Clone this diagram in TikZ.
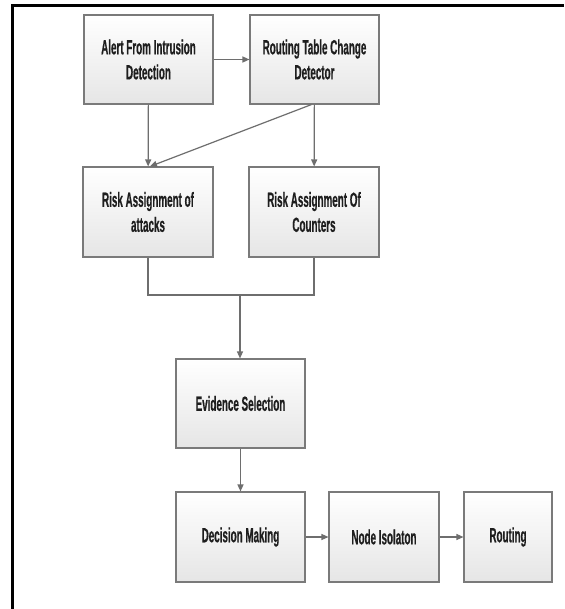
\documentclass[tikz,border=0pt]{standalone}
\usepackage{fontspec}
\setmainfont{Liberation Sans}[FakeStretch=0.48]
\newfontfamily\boxfont{Liberation Sans Bold}[FakeStretch=0.48, FakeBold=0.5]
\usetikzlibrary{arrows.meta,shadows}
\definecolor{boxline}{HTML}{7A7A7A}
\definecolor{arrowline}{HTML}{6E6E6E}
\definecolor{txt}{HTML}{1E1E1E}
\tikzset{
  flowbox/.style={draw=boxline, line width=1.1pt, top color=white, bottom color=black!10,
    minimum width=129pt, minimum height=89pt, inner sep=2pt, align=center, text=txt,
    font=\boxfont\fontsize{20.5}{25}\selectfont,
    drop shadow={shadow xshift=0.6pt, shadow yshift=-1.2pt, opacity=0.35, fill=black}},
  conn/.style={draw=arrowline, line width=1.2pt, -{Triangle[length=7pt,width=6pt]}},
  plainconn/.style={draw=arrowline, line width=1.2pt}
}
\begin{document}
\begin{tikzpicture}[x=1pt,y=-1pt]
\useasboundingbox (0,0) rectangle (564,609);
\fill[white] (0,0) rectangle (564,609);
% frame
\draw[black, line width=3pt] (12,609) -- (12,5.5) -- (564,5.5);
% nodes
\node[flowbox] (alert) at (148.5,59.5) {Alert From Intrusion\\Detection};
\node[flowbox] (rtcd) at (314.5,59.5) {Routing Table Change\\Detector};
\node[flowbox, minimum width=130pt, minimum height=90pt] (raa) at (148,212) {Risk Assignment of\\attacks};
\node[flowbox, minimum width=130pt, minimum height=90pt] (rac) at (314,212) {Risk Assignment Of\\Counters};
\node[flowbox] (evid) at (240.5,403.5) {Evidence Selection};
\node[flowbox, minimum height=90pt] (dec) at (240.5,537) {Decision Making};
\node[flowbox, minimum width=110pt, minimum height=90pt] (iso) at (384,537) {Node Isolaton};
\node[flowbox, minimum width=88pt, minimum height=90pt] (rout) at (508,537) {Routing};
\coordinate (mL) at (148,295);
\coordinate (mR) at (314,295);
\coordinate (mC) at (240,295);
% connectors
\draw[conn] (alert) -- (rtcd);
\draw[conn] (alert) -- (raa);
\draw[conn] ([xshift=-3pt]rtcd.south) -- ([xshift=2pt]raa.north);
\draw[conn] (rtcd) -- (rac);
\draw[plainconn] (raa.south) -- (mL) -- (mR) -- (rac.south);
\draw[conn] (mC) -- (mC |- evid.north);
\draw[conn] (evid) -- (dec);
\draw[conn] (dec) -- (iso);
\draw[conn] (iso) -- (rout);
\end{tikzpicture}
\end{document}
